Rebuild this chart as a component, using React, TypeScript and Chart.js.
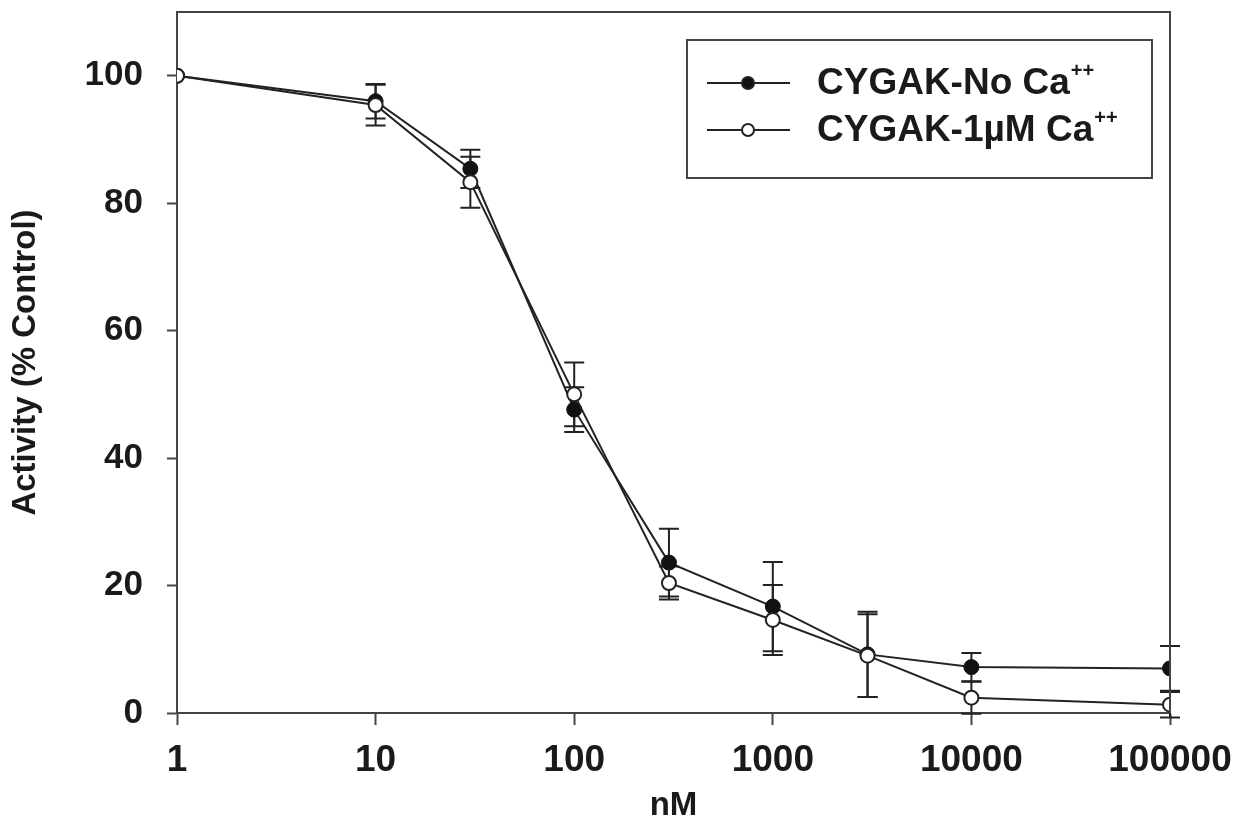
import React, { useEffect, useRef } from "react";
import { Chart, registerables } from "chart.js";

Chart.register(...registerables);

const concentrations = [1, 10, 30, 100, 300, 1000, 3000, 10000, 100000];
const noCaMean = [100, 96.0, 85.4, 47.6, 23.6, 16.7, 9.2, 7.2, 7.0];
const noCaErr = [0, 2.7, 3.0, 3.5, 5.3, 7.0, 6.7, 2.2, 3.5];
const caMean = [100, 95.4, 83.3, 50.0, 20.4, 14.6, 9.0, 2.4, 1.3];
const caErr = [0, 3.2, 4.0, 5.0, 2.6, 5.5, 6.5, 2.5, 2.0];

const xTicks = [1, 10, 100, 1000, 10000, 100000];
const yTicks = [0, 20, 40, 60, 80, 100];

const seriesNames = ["CYGAK-No Ca", "CYGAK-1\u00b5M Ca"];
const superscript = "++";
const xTitle = "nM";
const yTitle = "Activity (% Control)";

const FONT = "'Liberation Sans', Arial, sans-serif";
const INK = "#1a1a1a";
const AXIS = "#444";

const errorBarPlugin = {
  id: "errorBars",
  beforeDatasetsDraw(chart: any) {
    const { ctx } = chart;
    const xs = chart.scales.x;
    const ys = chart.scales.y;
    const errs = [noCaErr, caErr];
    const means = [noCaMean, caMean];
    ctx.save();
    ctx.strokeStyle = "#222";
    ctx.lineWidth = 2;
    for (let s = 0; s < 2; s++) {
      concentrations.forEach((c, i) => {
        const e = errs[s][i];
        if (!e) return;
        const px = xs.getPixelForValue(c);
        const top = ys.getPixelForValue(means[s][i] + e);
        const bot = ys.getPixelForValue(means[s][i] - e);
        ctx.beginPath();
        ctx.moveTo(px, top);
        ctx.lineTo(px, bot);
        ctx.moveTo(px - 10, top);
        ctx.lineTo(px + 10, top);
        ctx.moveTo(px - 10, bot);
        ctx.lineTo(px + 10, bot);
        ctx.stroke();
      });
    }
    ctx.restore();
  },
};

const framePlugin = {
  id: "frameAndLegend",
  afterDraw(chart: any) {
    const { ctx, chartArea } = chart;
    ctx.save();
    ctx.strokeStyle = AXIS;
    ctx.lineWidth = 2;
    ctx.beginPath();
    ctx.moveTo(chartArea.left, chartArea.top);
    ctx.lineTo(chartArea.right, chartArea.top);
    ctx.lineTo(chartArea.right, chartArea.bottom);
    ctx.stroke();

    // legend box
    const bw = 465;
    const bh = 138;
    const bx = chartArea.right - 18 - bw;
    const by = chartArea.top + 28;
    ctx.fillStyle = "#fff";
    ctx.fillRect(bx, by, bw, bh);
    ctx.strokeRect(bx, by, bw, bh);

    const rows = [by + 43, by + 90];
    rows.forEach((ry, k) => {
      ctx.strokeStyle = "#222";
      ctx.lineWidth = 2;
      ctx.beginPath();
      ctx.moveTo(bx + 20, ry);
      ctx.lineTo(bx + 103, ry);
      ctx.stroke();
      ctx.beginPath();
      ctx.arc(bx + 61, ry, 6, 0, Math.PI * 2);
      ctx.fillStyle = k === 0 ? "#111" : "#fff";
      ctx.fill();
      ctx.stroke();

      ctx.fillStyle = INK;
      ctx.textBaseline = "middle";
      ctx.textAlign = "left";
      ctx.font = `bold 37px ${FONT}`;
      const tx = bx + 130;
      ctx.fillText(seriesNames[k], tx, ry + 1);
      const w = ctx.measureText(seriesNames[k]).width;
      ctx.font = `bold 20px ${FONT}`;
      ctx.fillText(superscript, tx + w + 1, ry - 12);
    });
    ctx.restore();
  },
};

const zeroPadding = (s: any) => {
  s.paddingTop = 0;
  s.paddingBottom = 0;
  s.paddingLeft = 0;
  s.paddingRight = 0;
};

export default function App() {
  const ref = useRef<HTMLCanvasElement>(null);
  useEffect(() => {
    const canvas = ref.current;
    if (!canvas) return;
    const chart = new Chart(canvas, {
      type: "line",
      data: {
        datasets: [
          {
            label: seriesNames[0],
            data: concentrations.map((c, i) => ({ x: c, y: noCaMean[i] })),
            borderColor: "#222",
            borderWidth: 2,
            pointRadius: 7.5,
            pointBackgroundColor: "#111",
            pointBorderColor: "#111",
            pointBorderWidth: 1,
            tension: 0,
            order: 1,
          },
          {
            label: seriesNames[1],
            data: concentrations.map((c, i) => ({ x: c, y: caMean[i] })),
            borderColor: "#222",
            borderWidth: 2,
            pointRadius: 7,
            pointBackgroundColor: "#fff",
            pointBorderColor: "#222",
            pointBorderWidth: 2,
            tension: 0,
            order: 0,
          },
        ],
      },
      options: {
        animation: false,
        responsive: false,
        maintainAspectRatio: false,
        layout: { padding: { top: 12, right: 65, left: 0, bottom: 0 } },
        plugins: {
          legend: { display: false },
          tooltip: { enabled: false },
        },
        scales: {
          x: {
            type: "logarithmic",
            min: 1,
            max: 100000,
            afterBuildTicks: (s: any) => {
              s.ticks = xTicks.map((v) => ({ value: v }));
            },
            afterFit: (s: any) => {
              s.height = 115;
              zeroPadding(s);
            },
            ticks: {
              autoSkip: false,
              maxRotation: 0,
              padding: 14,
              color: INK,
              font: { family: FONT, size: 37, weight: "bold" },
              callback: (v: any) => String(v),
            },
            grid: {
              drawOnChartArea: false,
              drawTicks: true,
              tickLength: 12,
              tickWidth: 2,
              color: AXIS,
            },
            border: { display: true, color: AXIS, width: 2 },
            title: {
              display: true,
              text: xTitle,
              color: INK,
              font: { family: FONT, size: 33, weight: "bold" },
              padding: { top: 0, bottom: 2 },
            },
          },
          y: {
            type: "linear",
            min: 0,
            max: 110,
            afterBuildTicks: (s: any) => {
              s.ticks = yTicks.map((v) => ({ value: v }));
            },
            afterFit: (s: any) => {
              s.width = 177;
              zeroPadding(s);
            },
            ticks: {
              padding: 24,
              color: INK,
              font: { family: FONT, size: 35, weight: "bold" },
            },
            grid: {
              drawOnChartArea: false,
              drawTicks: true,
              tickLength: 10,
              tickWidth: 2,
              color: AXIS,
            },
            border: { display: true, color: AXIS, width: 2 },
            title: {
              display: true,
              text: yTitle,
              color: INK,
              font: { family: FONT, size: 33, weight: "bold" },
              padding: { top: 6, bottom: 0 },
            },
          },
        },
      },
      plugins: [errorBarPlugin, framePlugin],
    } as any);
    return () => chart.destroy();
  }, []);

  return (
    <div style={{ position: "fixed", left: 0, top: 0, width: 1235, height: 828, background: "#fff" }}>
      <canvas ref={ref} width={1235} height={828} style={{ width: 1235, height: 828 }} />
    </div>
  );
}
